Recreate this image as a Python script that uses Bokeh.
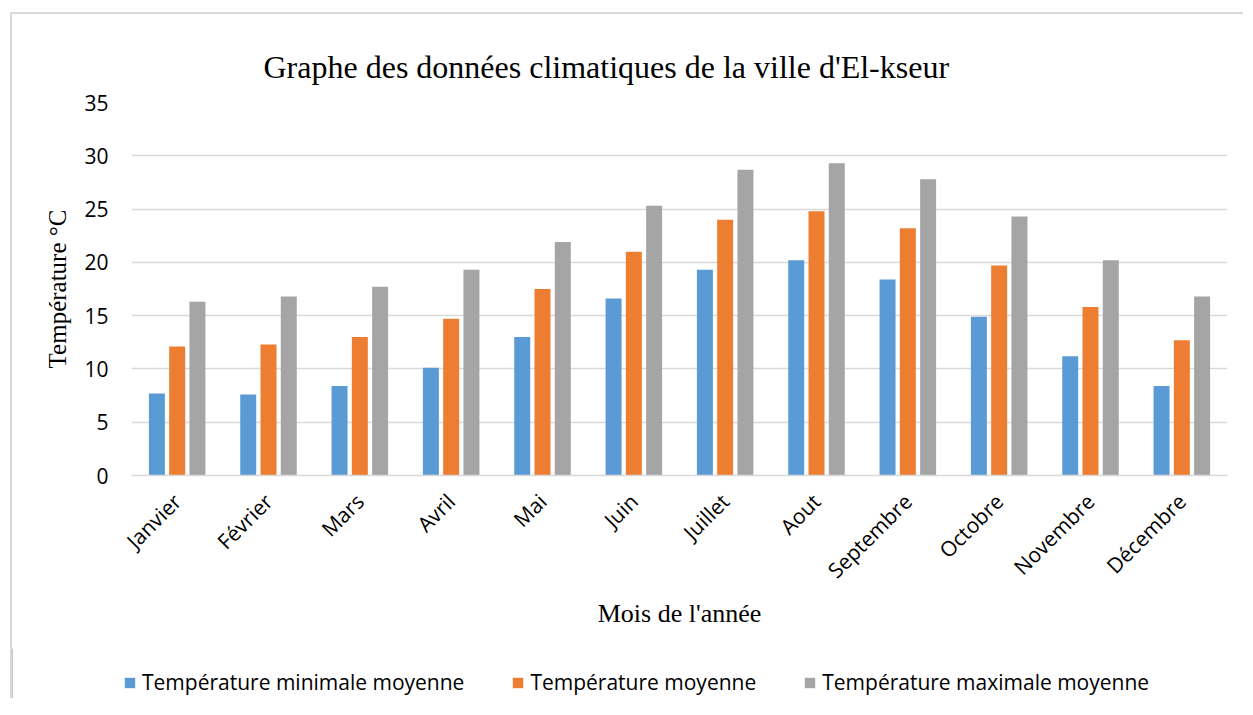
import math
from bokeh.plotting import figure
from bokeh.models import ColumnDataSource, Legend, LegendItem, FactorRange, Range1d, FixedTicker
from bokeh.transform import dodge
from bokeh.embed import file_html
from bokeh.resources import INLINE

months = ["Janvier", "Février", "Mars", "Avril", "Mai", "Juin", "Juillet",
          "Aout", "Septembre", "Octobre", "Novembre", "Décembre"]
t_min = [7.7, 7.6, 8.4, 10.1, 13.0, 16.6, 19.3, 20.2, 18.4, 14.9, 11.2, 8.4]
t_moy = [12.1, 12.3, 13.0, 14.7, 17.5, 21.0, 24.0, 24.8, 23.2, 19.7, 15.8, 12.7]
t_max = [16.3, 16.8, 17.7, 19.3, 21.9, 25.3, 28.7, 29.3, 27.8, 24.3, 20.2, 16.8]
y_ticks = [0, 5, 10, 15, 20, 25, 30, 35]
series_labels = ["Température minimale moyenne", "Température moyenne",
                 "Température maximale moyenne"]
title_text = "Graphe des données climatiques de la ville d'El-kseur"
x_title = "Mois de l'année"
y_title = "Température °C"

src = ColumnDataSource(dict(month=months, tmin=t_min, tmoy=t_moy, tmax=t_max))

p = figure(x_range=FactorRange(*months, range_padding=0), y_range=Range1d(0, 35),
           width=1233, height=636, output_backend="svg", toolbar_location=None,
           min_border_left=119, min_border_right=18, min_border_top=88,
           min_border_bottom=175,
           styles={"border-top": "2px solid #d9d9d9", "border-left": "2px solid #d9d9d9",
                   "margin-top": "12px", "margin-left": "10px"})

colors = ["#5B9BD5", "#ED7D31", "#A5A5A5"]
fields = ["tmin", "tmoy", "tmax"]
offsets = [-0.222, 0.0, 0.222]
for f, c, o in zip(fields, colors, offsets):
    p.vbar(x=dodge("month", o, range=p.x_range), top=f, width=0.175,
           source=src, fill_color=c, line_color=None)

p.outline_line_color = None
p.background_fill_color = "white"
p.border_fill_color = "white"

p.title.text = title_text
p.title.text_font = "Liberation Serif"
p.title.text_font_size = "32px"
p.title.text_font_style = "normal"
p.title.text_color = "black"
p.title.align = "left"
p.title.offset = 132
p.title.standoff = 35

p.xgrid.grid_line_color = None
p.ygrid.ticker = FixedTicker(ticks=y_ticks)
p.ygrid.grid_line_color = "#d9d9d9"
p.ygrid.grid_line_width = 1.3

p.yaxis.ticker = FixedTicker(ticks=y_ticks)
p.yaxis.axis_line_color = None
p.yaxis.major_tick_line_color = None
p.yaxis.minor_tick_line_color = None
p.yaxis.major_label_standoff = 17
p.yaxis.major_label_text_font = "Open Sans"
p.yaxis.major_label_text_font_size = "21px"
p.yaxis.major_label_text_color = "black"
p.yaxis.axis_label = y_title
p.yaxis.axis_label_text_font = "Liberation Serif"
p.yaxis.axis_label_text_font_size = "25px"
p.yaxis.axis_label_text_font_style = "normal"
p.yaxis.axis_label_text_color = "black"
p.yaxis.axis_label_standoff = 10

p.xaxis.axis_line_color = "#d9d9d9"
p.xaxis.axis_line_width = 1.3
p.xaxis.major_tick_line_color = None
p.xaxis.minor_tick_line_color = None
p.xaxis.major_label_orientation = math.pi / 4
p.xaxis.major_label_standoff = 16
p.xaxis.major_label_text_font = "Open Sans"
p.xaxis.major_label_text_font_size = "21px"
p.xaxis.major_label_text_color = "black"
p.xaxis.axis_label = x_title
p.xaxis.axis_label_text_font = "Liberation Serif"
p.xaxis.axis_label_text_font_size = "26px"
p.xaxis.axis_label_text_font_style = "normal"
p.xaxis.axis_label_text_color = "black"
p.xaxis.axis_label_standoff = 2

# legend strip below the chart (separate root so its frame spans the full width)
p2 = figure(width=1233, height=50, x_range=Range1d(0, 1), y_range=Range1d(0, 1),
            output_backend="svg", toolbar_location=None,
            x_axis_location=None, y_axis_location=None,
            min_border_left=0, min_border_right=0, min_border_top=0, min_border_bottom=0,
            styles={"border-left": "2px solid #d9d9d9", "margin-left": "10px"})
p2.outline_line_color = None
p2.grid.visible = False
p2.background_fill_color = "white"
p2.border_fill_color = "white"
swatches = []
for c in colors:
    swatches.append(p2.vbar(x=[-5], top=[1], width=0.1, fill_color=c, line_color=None))

legend = Legend(items=[LegendItem(label=l, renderers=[r]) for l, r in zip(series_labels, swatches)],
                orientation="horizontal", location=(111, 2),
                glyph_width=13, glyph_height=13, label_standoff=6, spacing=47,
                padding=0, margin=0, border_line_color=None, background_fill_alpha=0,
                label_text_font="Open Sans", label_text_font_size="21px",
                label_text_color="black")
p2.add_layout(legend)

open("out.html", "w").write(file_html([p, p2], INLINE))
